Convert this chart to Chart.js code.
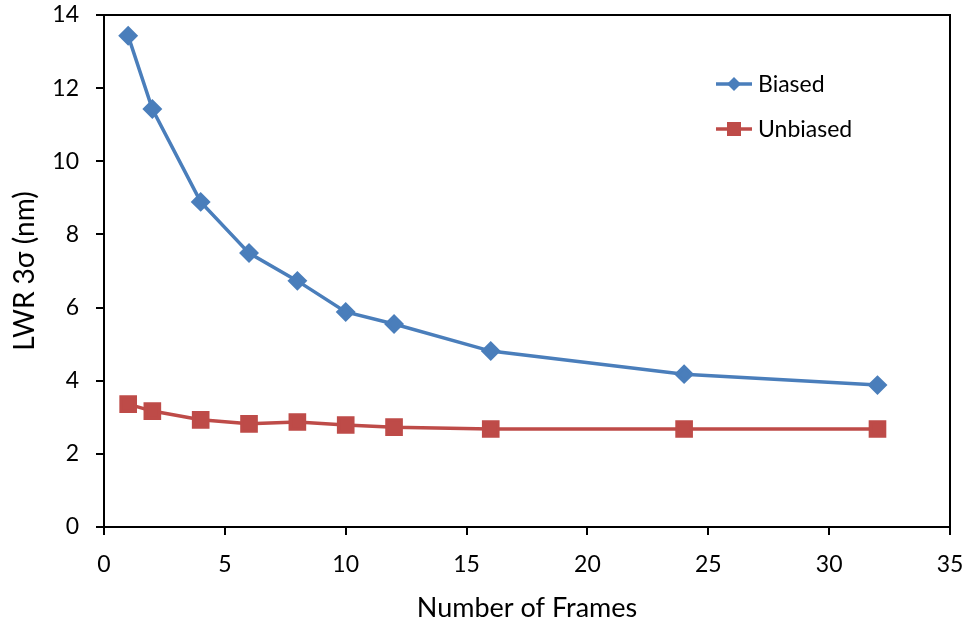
<!DOCTYPE html>
<html>
<head>
<meta charset="utf-8">
<script src="https://cdn.jsdelivr.net/npm/chart.js@4"></script>
<style>
  body { margin: 0; background: #fff; }
</style>
</head>
<body>
<canvas id="lwr" width="967" height="619"></canvas>
<script>
// LWR vs frames
var frames = [1, 2, 4, 6, 8, 10, 12, 16, 24, 32];
var biased = [13.43, 11.43, 8.89, 7.49, 6.73, 5.88, 5.55, 4.81, 4.18, 3.88];
var unbiased = [3.36, 3.17, 2.93, 2.82, 2.87, 2.79, 2.73, 2.68, 2.68, 2.68];
var seriesNames = ['Biased', 'Unbiased'];

var fontFamily = 'Lato, "Open Sans", sans-serif';

function pts(ys) {
    return frames.map(function (f, i) { return { x: f, y: ys[i] }; });
}

// box on top/right and legend inside the plot
var boxAndLegend = {
    id: 'boxAndLegend',
    afterDraw: function (chart) {
        var c = chart.ctx, a = chart.chartArea;
        c.save();
        c.strokeStyle = '#000';
        c.lineWidth = 2;
        c.beginPath();
        c.moveTo(a.left, a.top);
        c.lineTo(a.right, a.top);
        c.lineTo(a.right, a.bottom);
        c.stroke();

        c.font = '23px ' + fontFamily;
        c.textBaseline = 'middle';
        chart.data.datasets.forEach(function (ds, i) {
            var y = 84 + i * 45;
            var x0 = 716;
            c.strokeStyle = ds.borderColor;
            c.lineWidth = 3.5;
            c.beginPath();
            c.moveTo(x0, y);
            c.lineTo(x0 + 36, y);
            c.stroke();
            c.fillStyle = ds.pointBackgroundColor;
            c.beginPath();
            if (ds.pointStyle === 'rectRot') {
                c.moveTo(x0 + 18, y - 7);
                c.lineTo(x0 + 25, y);
                c.lineTo(x0 + 18, y + 7);
                c.lineTo(x0 + 11, y);
                c.closePath();
            } else {
                c.rect(x0 + 11, y - 7, 14, 14);
            }
            c.fill();
            c.fillStyle = '#000';
            c.fillText(ds.label, x0 + 42, y + 1);
        });
        c.restore();
    }
};

var ctx = document.getElementById('lwr').getContext('2d');
var myChart = new Chart(ctx, {
    type: 'line',
    data: {
        datasets: [{
            label: seriesNames[0],
            data: pts(biased),
            borderColor: '#4a7ebb',
            backgroundColor: '#4a7ebb',
            pointBackgroundColor: '#4a7ebb',
            pointBorderColor: '#4a7ebb',
            pointStyle: 'rectRot',
            pointRadius: 7.5,
            borderWidth: 3.5,
            tension: 0
        }, {
            label: seriesNames[1],
            data: pts(unbiased),
            borderColor: '#be4b48',
            backgroundColor: '#be4b48',
            pointBackgroundColor: '#be4b48',
            pointBorderColor: '#be4b48',
            pointStyle: 'rect',
            pointRadius: 10,
            borderWidth: 3.5,
            tension: 0
        }]
    },
    options: {
        responsive: false,
        animation: false,
        layout: { padding: { top: 15, right: 17, left: 0, bottom: 0 } },
        plugins: {
            legend: { display: false },
            tooltip: { enabled: false }
        },
        scales: {
            x: {
                type: 'linear',
                min: 0,
                max: 35,
                ticks: { stepSize: 5, color: '#000', font: { family: fontFamily, size: 23 }, padding: 16, maxRotation: 0 },
                grid: { drawOnChartArea: false, drawTicks: true, tickLength: 8, color: '#000', lineWidth: 2 },
                border: { color: '#000', width: 2 },
                title: { display: true, text: 'Number of Frames', color: '#000', font: { family: fontFamily, size: 27 }, padding: { top: 6, bottom: -5 } },
                afterFit: function (s) { s.height = 92; s.paddingLeft = 0; s.paddingRight = 0; }
            },
            y: {
                min: 0,
                max: 14,
                ticks: { stepSize: 2, color: '#000', font: { family: fontFamily, size: 23 }, padding: 17 },
                grid: { drawOnChartArea: false, drawTicks: true, tickLength: 8, color: '#000', lineWidth: 2 },
                border: { color: '#000', width: 2 },
                title: { display: true, text: 'LWR 3\u03c3 (nm)', color: '#000', font: { family: fontFamily, size: 28 }, padding: { top: 8, bottom: 6 } },
                afterFit: function (s) { s.width = 104; s.paddingTop = 0; s.paddingBottom = 0; }
            }
        }
    },
    plugins: [boxAndLegend]
});
</script>
</body>
</html>
